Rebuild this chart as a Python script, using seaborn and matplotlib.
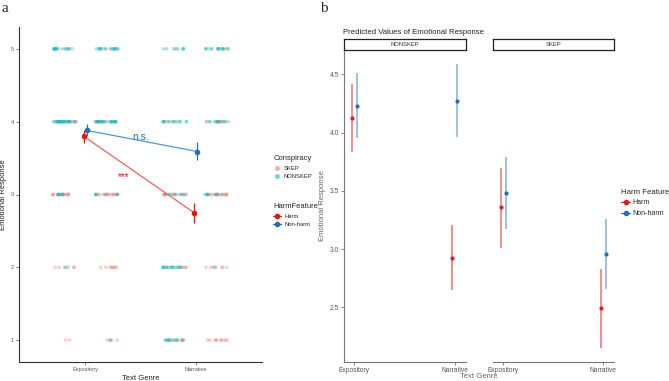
import numpy as np
import pandas as pd
import matplotlib
matplotlib.use("Agg")
import matplotlib.pyplot as plt
import seaborn as sns
from matplotlib.lines import Line2D

# ---------------- data ----------------
levels = [1, 2, 3, 4, 5]
genres = ["Expository", "Narrative"]
harm_levels = ["Harm", "Non-harm"]
consp_levels = ["SKEP", "NONSKEP"]

# panel a: number of raw responses at levels 1..5
skep_exp_harm = [2, 5, 16, 10, 3]
skep_exp_nonharm = [4, 8, 16, 10, 4]
skep_nar_harm = [10, 8, 14, 5, 2]
skep_nar_nonharm = [10, 7, 18, 10, 3]
nonskep_exp_harm = [0, 2, 6, 25, 14]
nonskep_exp_nonharm = [1, 0, 6, 22, 15]
nonskep_nar_harm = [10, 15, 8, 12, 7]
nonskep_nar_nonharm = [0, 1, 7, 10, 14]

# panel a: means and error bars (Expository, Narrative)
a_mean_harm = [3.80, 2.75]
a_lo_harm = [3.71, 2.61]
a_hi_harm = [3.89, 2.89]
a_mean_nonharm = [3.88, 3.59]
a_lo_nonharm = [3.80, 3.47]
a_hi_nonharm = [3.97, 3.72]

# panel b: predicted values (Expository, Narrative)
b_panels = ["NONSKEP", "SKEP"]
b_nonskep_harm = [4.13, 2.92]
b_nonskep_harm_lo = [3.83, 2.65]
b_nonskep_harm_hi = [4.42, 3.21]
b_nonskep_nonharm = [4.23, 4.27]
b_nonskep_nonharm_lo = [3.95, 3.96]
b_nonskep_nonharm_hi = [4.51, 4.59]
b_skep_harm = [3.36, 2.49]
b_skep_harm_lo = [3.01, 2.15]
b_skep_harm_hi = [3.70, 2.83]
b_skep_nonharm = [3.48, 2.96]
b_skep_nonharm_lo = [3.17, 2.66]
b_skep_nonharm_hi = [3.79, 3.26]

# ---------------- style ----------------
sns.set_theme(style="white")
plt.rcParams["font.family"] = ["Liberation Sans", "DejaVu Sans"]
np.random.seed(3)

consp_pal = {"SKEP": "#F8766D", "NONSKEP": "#00BFC4"}
harm_col_a = {"Harm": "#F01010", "Non-harm": "#1F6FC0"}
line_col_a = {"Harm": "#F26060", "Non-harm": "#4A9AD8"}
harm_col_b = {"Harm": "#E41A1C", "Non-harm": "#1F6FC0"}
ci_col_b = {"Harm": "#F07070", "Non-harm": "#7FB0DC"}

W, H = 669, 381
fig = plt.figure(figsize=(W / 100, H / 100), dpi=100)

def box(l, t, r, b):
    return [l / W, 1 - b / H, (r - l) / W, (b - t) / H]

# ---------------- panel a ----------------
counts = {
    ("Expository", "Harm", "SKEP"): skep_exp_harm,
    ("Expository", "Non-harm", "SKEP"): skep_exp_nonharm,
    ("Narrative", "Harm", "SKEP"): skep_nar_harm,
    ("Narrative", "Non-harm", "SKEP"): skep_nar_nonharm,
    ("Expository", "Harm", "NONSKEP"): nonskep_exp_harm,
    ("Expository", "Non-harm", "NONSKEP"): nonskep_exp_nonharm,
    ("Narrative", "Harm", "NONSKEP"): nonskep_nar_harm,
    ("Narrative", "Non-harm", "NONSKEP"): nonskep_nar_nonharm,
}
harm_offset = {"Harm": -0.19, "Non-harm": 0.19}
rows = []
for (g, h, c), cnt in counts.items():
    for lev, n in zip(levels, cnt):
        for _ in range(n):
            rows.append({"xpos": genres.index(g) + 1 + harm_offset[h],
                         "resp": lev, "consp": c})
df_a = pd.DataFrame(rows)

ax_a = fig.add_axes(box(19, 27, 262, 362))
sns.stripplot(data=df_a, x="xpos", y="resp", hue="consp",
              hue_order=["NONSKEP", "SKEP"], palette=consp_pal,
              native_scale=True, jitter=0.29, size=2.6, alpha=0.35,
              linewidth=0, orient="x", legend=False, ax=ax_a)

mean_dodge = {"Harm": -0.015, "Non-harm": 0.015}
for h, m, lo, hi in [("Harm", a_mean_harm, a_lo_harm, a_hi_harm),
                     ("Non-harm", a_mean_nonharm, a_lo_nonharm, a_hi_nonharm)]:
    xs = np.arange(1, len(genres) + 1) + mean_dodge[h]
    ax_a.plot(xs, m, color=line_col_a[h], lw=0.9, zorder=3)
    ax_a.vlines(xs, lo, hi, color=harm_col_a[h], lw=0.9, zorder=4)
    ax_a.plot(xs, m, "o", color=harm_col_a[h], ms=3, zorder=5)

ax_a.text(1.5, 3.72, "n.s.", color="#1F6FC0", fontsize=7.5, ha="center", va="bottom")
ax_a.text(1.35, 3.24, "***", color="#F01010", fontsize=7, ha="center", va="center")

ax_a.set_xlim(0.4, 2.6)
ax_a.set_ylim(0.7, 5.3)
ax_a.set_xticks([1, 2])
ax_a.set_xticklabels(genres)
ax_a.set_yticks(levels)
ax_a.set_yticklabels([str(v) for v in levels])
ax_a.tick_params(axis="both", labelsize=4, colors="#555555", length=2, width=0.5,
                 pad=1.5, direction="out", bottom=True, left=True)
for s in ["top", "right"]:
    ax_a.spines[s].set_visible(False)
for s in ["left", "bottom"]:
    ax_a.spines[s].set_color("#333333")
    ax_a.spines[s].set_linewidth(0.8)
ax_a.set_xlabel("Text Genre", fontsize=5.5, color="#222222", labelpad=2)
ax_a.set_ylabel("Emotional Response", fontsize=5.5, color="#222222", labelpad=3)

# legends panel a
h_consp = [Line2D([], [], marker="o", ls="", color=consp_pal[c], alpha=0.5, ms=2.5)
           for c in consp_levels]
leg1 = fig.legend(h_consp, consp_levels, title="Conspiracy",
                  loc="upper left", bbox_to_anchor=(268 / W, 1 - 150 / H),
                  frameon=False, fontsize=4.2, title_fontsize=5.5,
                  handlelength=1.2, handletextpad=0.6, labelspacing=0.6,
                  alignment="left")
h_harm = [Line2D([], [], marker="o", color=harm_col_a[h], ms=3, lw=0.9)
          for h in harm_levels]
leg2 = fig.legend(h_harm, harm_levels, title="HarmFeature",
                  loc="upper left", bbox_to_anchor=(268 / W, 1 - 198 / H),
                  frameon=False, fontsize=4.2, title_fontsize=5.5,
                  handlelength=1.4, handletextpad=0.6, labelspacing=0.6,
                  alignment="left")

# ---------------- panel b ----------------
b_data = {
    "NONSKEP": [("Harm", b_nonskep_harm, b_nonskep_harm_lo, b_nonskep_harm_hi),
                ("Non-harm", b_nonskep_nonharm, b_nonskep_nonharm_lo, b_nonskep_nonharm_hi)],
    "SKEP": [("Harm", b_skep_harm, b_skep_harm_lo, b_skep_harm_hi),
             ("Non-harm", b_skep_nonharm, b_skep_nonharm_lo, b_skep_nonharm_hi)],
}
b_boxes = {"NONSKEP": (344, 466), "SKEP": (493, 614)}
b_dodge = {"Harm": -0.025, "Non-harm": 0.025}

for i, p in enumerate(b_panels):
    l, r = b_boxes[p]
    ax = fig.add_axes(box(l, 50, r, 362))
    for h, m, lo, hi in b_data[p]:
        xs = np.arange(1, len(genres) + 1) + b_dodge[h]
        ax.vlines(xs, lo, hi, color=ci_col_b[h], lw=1.1, zorder=2)
        sns.scatterplot(x=xs, y=m, color=harm_col_b[h], s=9, linewidth=0,
                        zorder=3, ax=ax, legend=False)
    ax.set_xlim(0.9, 2.11)
    ax.set_ylim(2.03, 4.71)
    ax.set_xticks([1, 2])
    ax.set_xticklabels(genres)
    ax.set_yticks([2.5, 3.0, 3.5, 4.0, 4.5])
    ax.set_yticklabels(["2.5", "3.0", "3.5", "4.0", "4.5"])
    ax.tick_params(axis="both", labelsize=4.8, colors="#555555", length=2,
                   width=0.5, pad=1.5, direction="out", bottom=True, left=(i == 0))
    for s in ["top", "right"]:
        ax.spines[s].set_visible(False)
    ax.spines["bottom"].set_color("#777777")
    ax.spines["bottom"].set_linewidth(0.8)
    if i == 0:
        ax.spines["left"].set_color("#777777")
        ax.spines["left"].set_linewidth(0.8)
        ax.set_ylabel("Emotional Response", fontsize=5.5, color="#666666", labelpad=3)
    else:
        ax.spines["left"].set_visible(False)
        ax.set_yticklabels([])
    # facet strip
    sax = fig.add_axes(box(l, 39, r, 50))
    sax.set_xticks([]); sax.set_yticks([])
    for s in sax.spines.values():
        s.set_visible(True)
        s.set_color("#222222")
        s.set_linewidth(0.9)
    sax.set_facecolor("white")
    sax.text(0.5, 0.5, p, fontsize=4.2, color="#333333", ha="center", va="center",
             transform=sax.transAxes)

fig.text(479 / W, 1 - 377 / H, "Text Genre", fontsize=5.5, color="#666666",
         ha="center", va="center")
fig.text(343 / W, 1 - 32 / H, "Predicted Values of Emotional Response", fontsize=5.6,
         color="#222222", ha="left", va="center")

h_harm_b = [Line2D([], [], marker="o", color=harm_col_b[h], ms=3, lw=0.9)
            for h in harm_levels]
fig.legend(h_harm_b, harm_levels, title="Harm Feature",
           loc="upper left", bbox_to_anchor=(621 / W, 1 - 189 / H),
           frameon=False, fontsize=5, title_fontsize=5.6,
           borderpad=0, borderaxespad=0,
           handlelength=1.3, handletextpad=0.4, labelspacing=0.5,
           alignment="left")

# panel labels
fig.text(2 / W, 1 - 9 / H, "a", fontsize=11, family="Liberation Serif",
         ha="left", va="center")
fig.text(320 / W, 1 - 9 / H, "b", fontsize=11, family="Liberation Serif",
         ha="left", va="center")

fig.savefig("out.png", dpi=100, facecolor="white")
